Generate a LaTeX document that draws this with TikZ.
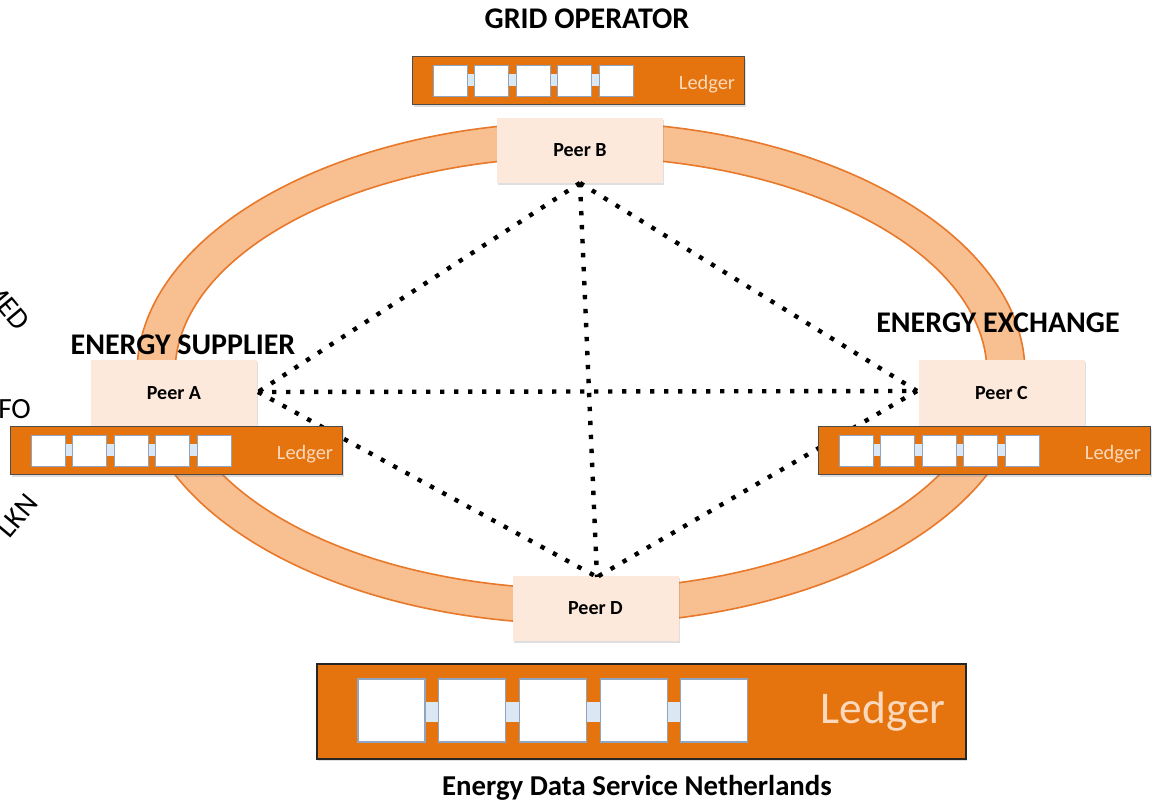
\documentclass[tikz,border=0pt]{standalone}
\usepackage{fontspec}
\setmainfont{Carlito}
\usetikzlibrary{shadows}
\definecolor{ringfill}{HTML}{F8BF90}
\definecolor{ringline}{HTML}{E8782A}
\definecolor{peerfill}{HTML}{FDE9DC}
\definecolor{ledgerfill}{HTML}{E5740E}
\definecolor{ledgertext}{HTML}{FCD9BC}
\definecolor{blockline}{HTML}{8EA4C0}
\definecolor{linkfill}{HTML}{DCE7F4}
\tikzset{
  peer/.style={draw=none, fill=peerfill, minimum width=124.5pt, minimum height=48.75pt,
    font=\fontsize{15}{17}\selectfont\bfseries, inner sep=0pt,
    drop shadow={shadow xshift=1pt, shadow yshift=-1.5pt, opacity=0.25}},
  ledger/.style={draw=black!70, line width=0.8pt, fill=ledgerfill, inner sep=0pt,
    drop shadow={shadow xshift=1pt, shadow yshift=-1.5pt, opacity=0.25}},
  block/.style={draw=blockline, line width=0.6pt, fill=white},
  link/.style={draw=none, fill=linkfill},
  title/.style={font=\fontsize{22.5}{26}\selectfont\bfseries, inner sep=0pt},
  dotline/.style={line width=3.3pt, line cap=butt, dash pattern=on 3.3pt off 7.2pt},
  cut/.style={font=\fontsize{22}{26}\selectfont, inner sep=0pt}
}
\begin{document}
\begin{tikzpicture}[x=0.75pt,y=-0.75pt]
\useasboundingbox (0,0) rectangle (1154,805);
\clip (0,0) rectangle (1154,805);
% ring
\fill[ringfill, even odd rule] (581,373) ellipse [x radius=444, y radius=251]
                              (581,373) ellipse [x radius=406, y radius=216];
\draw[ringline, line width=1.2pt] (581,373) ellipse [x radius=444, y radius=251];
\draw[ringline, line width=1.2pt] (581,373) ellipse [x radius=406, y radius=216];

% peers
\node[peer] (pb) at (580,150.5) {Peer B};
\node[peer, minimum height=50.25pt] (pa) at (174,393.5) {Peer A};
\node[peer, minimum height=50.25pt] (pc) at (1001.5,393.5) {Peer C};
\node[peer] (pd) at (595.5,608.5) {Peer D};

% dotted connections
\coordinate (bA) at (580,183);
\coordinate (aA) at (258,392);
\coordinate (cA) at (917,391);
\coordinate (dA) at (597,577);
\draw[dotline] (bA) -- (aA);
\draw[dotline] (bA) -- (cA);
\draw[dotline] (bA) -- (dA);
\draw[dotline] (aA) -- (cA);
\draw[dotline] (aA) -- (dA);
\draw[dotline] (cA) -- (dA);

% small ledgers
\foreach \lx/\ly/\nm in {412/56/lt, 10/426/la, 818/426/lc}{
  \node[ledger, minimum width=249pt, minimum height=36pt, anchor=north west] (\nm) at (\lx,\ly) {};
  \foreach \i in {0,...,3}{
    \fill[linkfill] ({\lx+21+\i*41.5+30},{\ly+18}) rectangle ({\lx+21+\i*41.5+45},{\ly+30});
  }
  \foreach \i in {0,...,4}{
    \draw[block] ({\lx+21+\i*41.5},{\ly+9}) rectangle ({\lx+21+\i*41.5+34},{\ly+40});
  }
  \node[text=ledgertext, font=\fontsize{15.3}{17}\selectfont, inner sep=0pt] (\nm t) at ({\lx+295},{\ly+28}) {Ledger};
}

% big ledger
\node[ledger, minimum width=486.75pt, minimum height=71.25pt, anchor=north west, line width=1.2pt, draw=black!85] (lb) at (316,663) {};
\foreach \i in {0,...,3}{
  \fill[linkfill] ({358+\i*80.7+60},{702}) rectangle ({358+\i*80.7+86},{722});
}
\foreach \i in {0,...,4}{
  \draw[block, line width=0.9pt] ({358+\i*80.7},{679}) rectangle ({358+\i*80.7+67},{742});
}
\node[text=ledgertext, font=\fontsize{34}{38}\selectfont, inner sep=0pt] (lbt) at (883,712) {Ledger};

% titles
\node[title] (tgo) at (587,19) {GRID OPERATOR};
\node[title] (tes) at (183,345) {ENERGY SUPPLIER};
\node[title] (tee) at (998,323) {ENERGY EXCHANGE};
\node[title, font=\fontsize{21.6}{25}\selectfont\bfseries] (tedsn) at (637,788) {Energy Data Service Netherlands};

% cut-off labels at the left edge
\node[cut, rotate=-50, anchor=south east] (cmed) at (17,333) {MED};
\node[cut, anchor=west] (cfo) at (-2,409) {FO};
\node[cut, rotate=50, anchor=south east] (clkn) at (40,504) {LKN};
\end{tikzpicture}
\end{document}
